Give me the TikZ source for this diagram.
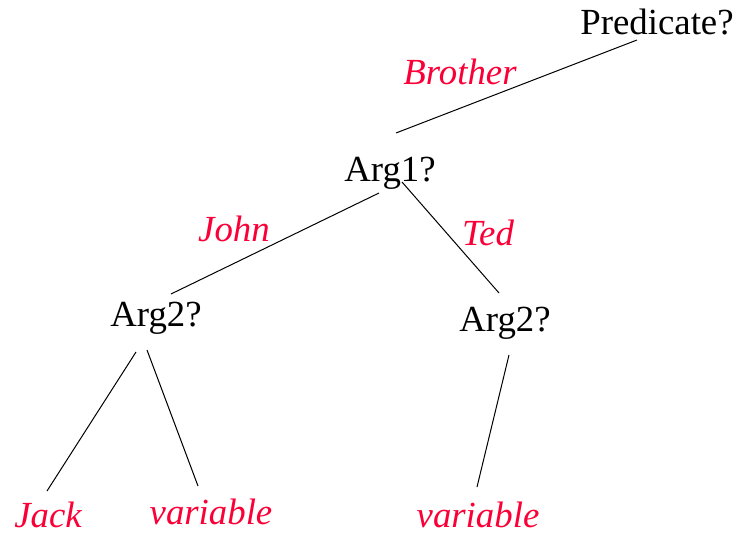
\documentclass[tikz,border=0pt]{standalone}
\usepackage{fontspec}
\setmainfont{Liberation Serif}
\usepackage{xcolor}
\definecolor{edgered}{RGB}{250,0,55}

\begin{document}
\begin{tikzpicture}[x=0.5pt, y=-0.5pt, line width=0.5pt,
  test/.style={font=\fontsize{18.4}{22}\selectfont, anchor=base, inner sep=0pt},
  val/.style={test, text=edgered, font=\fontsize{18.4}{22}\selectfont\itshape}]
\useasboundingbox (0,0) rectangle (739,534);
% tests
\node[test] (pred)  at (657,35)  {Predicate?};
\node[test] (arg1)  at (390,182) {Arg1?};
\node[test] (arg2l) at (156,327) {Arg2?};
\node[test] (arg2r) at (505,332) {Arg2?};
% leaves
\node[val] (jack) at (48,527)  {Jack};
\node[val] (varl) at (211,524) {variable};
\node[val] (varr) at (478,527) {variable};
% branch labels
\node[val] (brother) at (460,85)  {Brother};
\node[val] (john)    at (234,242) {John};
\node[val] (ted)     at (488,246) {Ted};
% branches
\draw ([shift={(-20,5)}]pred.base) -- ([shift={(6,-49)}]arg1.base);
\draw ([shift={(-11,11)}]arg1.base) -- ([shift={(15,-33)}]arg2l.base);
\draw ([shift={(12,0)}]arg1.base) -- ([shift={(-6,-39)}]arg2r.base);
\draw ([shift={(-20,25)}]arg2l.base) -- ([shift={(-1,-36)}]jack.base);
\draw ([shift={(-9,23)}]arg2l.base) -- ([shift={(-13,-38)}]varl.base);
\draw ([shift={(4,23)}]arg2r.base) -- ([shift={(-1,-40)}]varr.base);
\end{tikzpicture}
\end{document}
